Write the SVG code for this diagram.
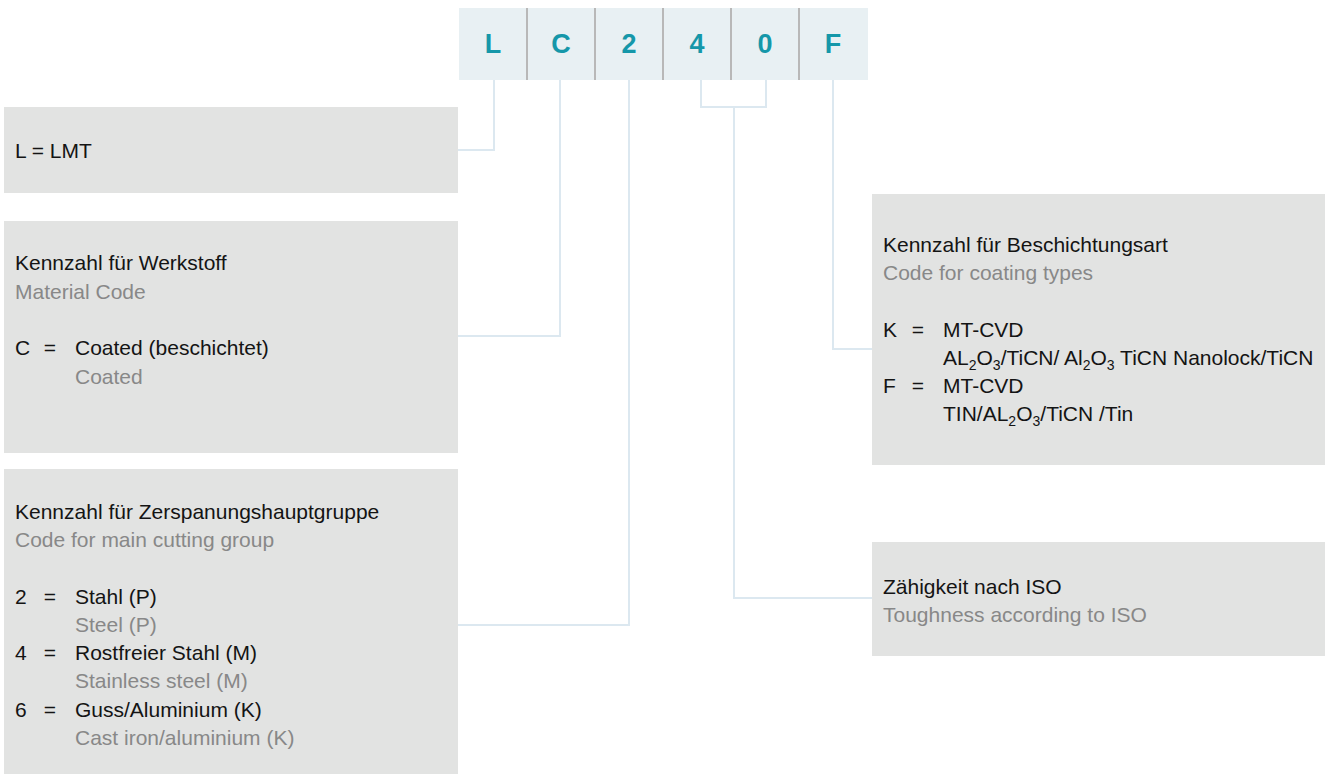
<svg xmlns="http://www.w3.org/2000/svg" width="1325" height="774" viewBox="0 0 1325 774">
  <style>
    .box { fill: #e2e3e2; }
    .cell { fill: #e8f0f3; }
    .divider { stroke: #b8b8b8; stroke-width: 2; }
    .code { font-family: "Liberation Sans", Arial, sans-serif; font-weight: bold; font-size: 27px; fill: #1597a9; text-anchor: middle; }
    .t { font-family: "Liberation Sans", Arial, sans-serif; font-size: 21px; fill: #141414; }
    .s { font-family: "Liberation Sans", Arial, sans-serif; font-size: 21px; fill: #888888; }
    .eq { text-anchor: middle; }
    .sub { font-size: 14px; }
    .link { fill: none; stroke: #dce8f0; stroke-width: 2; }
  </style>

  <!-- type designation header -->
  <g id="header">
    <rect class="cell" x="459" y="8" width="409" height="72"/>
    <line class="divider" x1="527" y1="8" x2="527" y2="80"/>
    <line class="divider" x1="595" y1="8" x2="595" y2="80"/>
    <line class="divider" x1="663" y1="8" x2="663" y2="80"/>
    <line class="divider" x1="731" y1="8" x2="731" y2="80"/>
    <line class="divider" x1="799" y1="8" x2="799" y2="80"/>
    <text class="code" x="493" y="53">L</text>
    <text class="code" x="561" y="53">C</text>
    <text class="code" x="629" y="53">2</text>
    <text class="code" x="697" y="53">4</text>
    <text class="code" x="765" y="53">0</text>
    <text class="code" x="833" y="53">F</text>
  </g>

  <!-- connectors from header positions to description boxes -->
  <g id="connectors">
    <path class="link" d="M494,80 V150 H458"/>
    <path class="link" d="M560,80 V336 H458"/>
    <path class="link" d="M629,80 V625 H458"/>
    <path class="link" d="M701,80 V107 H766 V80"/>
    <path class="link" d="M734,107 V598 H872"/>
    <path class="link" d="M833,80 V349 H872"/>
  </g>

  <g id="box-manufacturer">
    <rect class="box" x="4" y="107" width="454" height="86"/>
    <text class="t" x="15" y="157.5">L = LMT</text>
  </g>

  <g id="box-material">
    <rect class="box" x="4" y="221" width="454" height="232"/>
    <text class="t" x="15" y="270">Kennzahl für Werkstoff</text>
    <text class="s" x="15" y="299">Material Code</text>
    <text class="t" x="15" y="355">C</text>
    <text class="t eq" x="50" y="355">=</text>
    <text class="t" x="75" y="355">Coated (beschichtet)</text>
    <text class="s" x="75" y="384">Coated</text>
  </g>

  <g id="box-cutting-group">
    <rect class="box" x="4" y="469" width="454" height="305"/>
    <text class="t" x="15" y="519">Kennzahl für Zerspanungshauptgruppe</text>
    <text class="s" x="15" y="547">Code for main cutting group</text>
    <text class="t" x="15" y="604">2</text>
    <text class="t eq" x="50" y="604">=</text>
    <text class="t" x="75" y="604">Stahl (P)</text>
    <text class="s" x="75" y="632">Steel (P)</text>
    <text class="t" x="15" y="660">4</text>
    <text class="t eq" x="50" y="660">=</text>
    <text class="t" x="75" y="660">Rostfreier Stahl (M)</text>
    <text class="s" x="75" y="688">Stainless steel (M)</text>
    <text class="t" x="15" y="717">6</text>
    <text class="t eq" x="50" y="717">=</text>
    <text class="t" x="75" y="717">Guss/Aluminium (K)</text>
    <text class="s" x="75" y="745">Cast iron/aluminium (K)</text>
  </g>

  <g id="box-coating">
    <rect class="box" x="872" y="194" width="453" height="271"/>
    <text class="t" x="883" y="252">Kennzahl für Beschichtungsart</text>
    <text class="s" x="883" y="280">Code for coating types</text>
    <text class="t" x="883" y="337">K</text>
    <text class="t eq" x="918" y="337">=</text>
    <text class="t" x="943" y="337">MT-CVD</text>
    <text class="t" x="943" y="365">AL<tspan class="sub" dy="5">2</tspan><tspan dy="-5">O</tspan><tspan class="sub" dy="5">3</tspan><tspan dy="-5">/TiCN/ Al</tspan><tspan class="sub" dy="5">2</tspan><tspan dy="-5">O</tspan><tspan class="sub" dy="5">3</tspan><tspan dy="-5"> TiCN Nanolock/TiCN</tspan></text>
    <text class="t" x="883" y="393">F</text>
    <text class="t eq" x="918" y="393">=</text>
    <text class="t" x="943" y="393">MT-CVD</text>
    <text class="t" x="943" y="421">TIN/AL<tspan class="sub" dy="5">2</tspan><tspan dy="-5">O</tspan><tspan class="sub" dy="5">3</tspan><tspan dy="-5">/TiCN /Tin</tspan></text>
  </g>

  <g id="box-toughness">
    <rect class="box" x="872" y="542" width="453" height="114"/>
    <text class="t" x="883" y="593.5">Zähigkeit nach ISO</text>
    <text class="s" x="883" y="622">Toughness according to ISO</text>
  </g>
</svg>
